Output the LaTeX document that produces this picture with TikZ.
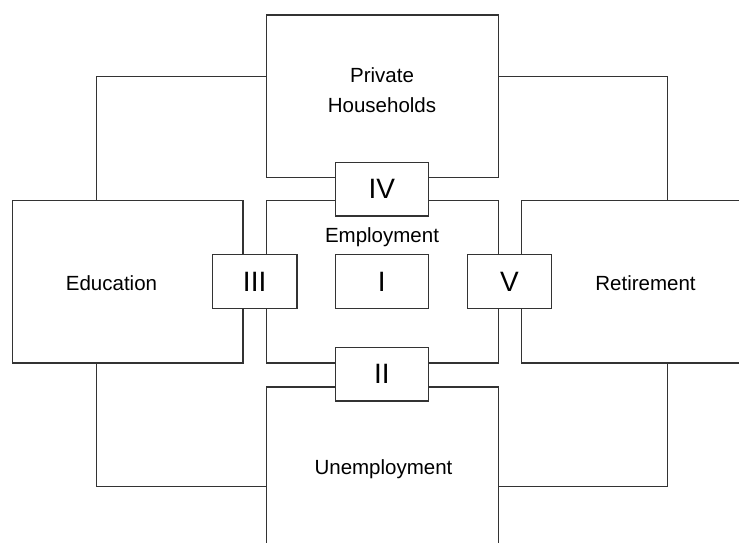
\documentclass[tikz,border=0pt]{standalone}
\usepackage{fontspec}
\setmainfont{Liberation Sans}
\begin{document}
\begin{tikzpicture}[x=1pt,y=-1pt,
  line/.style={draw=black!80,line width=1.4pt},
  sector/.style={line,fill=white,rectangle,inner sep=0pt},
  flowbox/.style={line,fill=white,rectangle,inner sep=0pt,font=\fontsize{28}{30}\selectfont},
  lbl/.style={font=\fontsize{20.5}{30}\selectfont,inner sep=0pt,align=center}]
\useasboundingbox (0,0) rectangle (739,542);
\clip (0,0) rectangle (739,542);
% sectors
\node[sector,minimum width=232pt,minimum height=162.7pt] (ph) at (382.3,96.35) {};
\node[sector,minimum width=232pt,minimum height=162.7pt] (emp) at (382.3,281.65) {};
\node[sector,minimum width=232pt,minimum height=200pt] (unemp) at (382.3,487) {};
\node[sector,minimum width=230.7pt,minimum height=162.7pt] (edu) at (127.65,281.65) {};
\node[sector,minimum width=260pt,minimum height=162.7pt] (ret) at (651.7,281.65) {};
% outer links between sectors
\coordinate (tl) at (96.3,76.7);
\coordinate (tr) at (667.3,76.7);
\coordinate (bl) at (96.3,486.7);
\coordinate (br) at (667.3,486.7);
\draw[line] (tl |- edu.north) |- (ph.west |- tl);
\draw[line] (ph.east |- tr) -| (tr |- ret.north);
\draw[line] (bl |- edu.south) |- (unemp.west |- bl);
\draw[line] (br |- ret.south) |- (unemp.east |- br);
% flows
\node[flowbox,minimum width=93pt,minimum height=53.7pt] (f4) at (381.8,189.15) {IV};
\node[flowbox,minimum width=93pt,minimum height=53.3pt] (f2) at (381.8,374.35) {II};
\node[flowbox,minimum width=84.7pt,minimum height=54pt] (f3) at (254.65,281.7) {III};
\node[flowbox,minimum width=93pt,minimum height=54pt] (f1) at (381.8,281.7) {I};
\node[flowbox,minimum width=83.6pt,minimum height=54pt] (f5) at (509.5,281.7) {V};
% sector names
\node[lbl] (tph) at (382,90) {Private\\Households};
\node[lbl] (temp) at (382,237) {Employment};
\node[lbl] (tedu) at (111.5,283.5) {Education};
\node[lbl] (tret) at (645.5,283.5) {Retirement};
\node[lbl] (tunemp) at (383.5,469.5) {Unemployment};
\end{tikzpicture}
\end{document}
